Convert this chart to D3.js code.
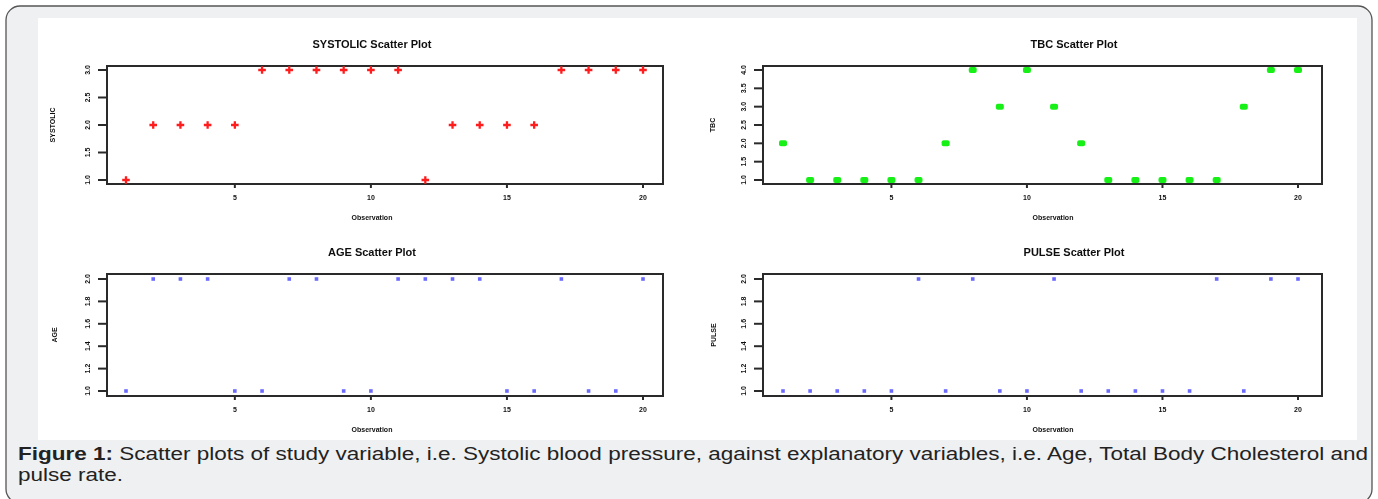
<!DOCTYPE html>
<head>
  <meta charset="utf-8">
  <script src="https://d3js.org/d3.v7.min.js"></script>
  <style>
    body { margin:0; background:#fff; }
    text { font-family: 'Liberation Sans', Arial, sans-serif; }
    .frame { fill: none; stroke: #2b2b2b; stroke-width: 2; }
    .tick-mark { stroke: #2b2b2b; stroke-width: 2; }
    .tick-label { font-size: 7px; font-weight: 700; fill: #111; }
    .plot-title { font-size: 11px; font-weight: 700; fill: #111; text-anchor: middle; }
    .axis-title { font-size: 7px; font-weight: 700; fill: #111; text-anchor: middle; }
    .caption { font-size: 17.5px; fill: #222; }
  </style>
</head>
<body>
  <script>
    // observation numbers 1..20
    var observations = d3.range(1, 21);

    // coded values
    var systolic = [1,2,2,2,2,3,3,3,3,3,3,1,2,2,2,2,3,3,3,3];
    var tbc      = [2,1,1,1,1,1,2,4,3,4,3,2,1,1,1,1,1,3,4,4];
    var age      = [1,2,2,2,1,1,2,2,1,1,2,2,2,2,1,1,2,1,1,2];
    var pulse    = [1,1,1,1,1,2,1,2,1,1,2,1,1,1,1,1,2,1,2,2];

    var xTicks = [5, 10, 15, 20];
    var systolicTicks = [1.0, 1.5, 2.0, 2.5, 3.0];
    var tbcTicks      = [1.0, 1.5, 2.0, 2.5, 3.0, 3.5, 4.0];
    var ageTicks      = [1.0, 1.2, 1.4, 1.6, 1.8, 2.0];
    var pulseTicks    = [1.0, 1.2, 1.4, 1.6, 1.8, 2.0];

    var captionBold = "Figure 1:";
    var captionLine1 = " Scatter plots of study variable, i.e. Systolic blood pressure, against explanatory variables, i.e. Age, Total Body Cholesterol and";
    var captionLine2 = "pulse rate.";

    var W = 1378, H = 499;

    var svg = d3.select("body").append("svg")
        .attr("width", W)
        .attr("height", H);

    var defs = svg.append("defs");
    defs.append("filter").attr("id", "soft")
      .append("feGaussianBlur").attr("stdDeviation", 0.45);

    // card
    svg.append("rect")
      .attr("x", 6).attr("y", 6)
      .attr("width", W - 12).attr("height", 497)
      .attr("rx", 14)
      .style("fill", "#eff0f2")
      .style("stroke", "#555")
      .style("stroke-width", 1.3);

    svg.append("rect")
      .attr("x", 38).attr("y", 18)
      .attr("width", 1319).attr("height", 422)
      .style("fill", "#fff");

    var chart = svg.append("g").attr("filter", "url(#soft)");

    var panels = [
      {title: "SYSTOLIC Scatter Plot", ylab: "SYSTOLIC", values: systolic, ticks: systolicTicks,
       xr: [126, 643], fx: [107, 663], yr: [180, 70], fy: [184, 66], titleX: 372, obsX: 372, yLabX: 53, type: "plus", color: "#ff1e1e"},
      {title: "TBC Scatter Plot", ylab: "TBC", values: tbc, ticks: tbcTicks,
       xr: [783, 1298], fx: [763, 1322], yr: [180, 70], fy: [184, 66], titleX: 1074, obsX: 1053, yLabX: 713, type: "blob", color: "#19f019"},
      {title: "AGE Scatter Plot", ylab: "AGE", values: age, ticks: ageTicks,
       xr: [126, 643], fx: [107, 663], yr: [391, 279], fy: [396, 274], titleX: 372, obsX: 372, yLabX: 55, type: "square", color: "#6b6bff"},
      {title: "PULSE Scatter Plot", ylab: "PULSE", values: pulse, ticks: pulseTicks,
       xr: [783, 1298], fx: [763, 1322], yr: [391, 279], fy: [396, 274], titleX: 1074, obsX: 1053, yLabX: 714, type: "square", color: "#6b6bff"}
    ];

    panels.forEach(function(p) {
      var g = chart.append("g");
      var x = d3.scaleLinear().domain([1, 20]).range(p.xr);
      var y = d3.scaleLinear().domain(d3.extent(p.ticks)).range(p.yr);

      g.append("text").attr("class", "plot-title")
        .attr("x", p.titleX).attr("y", p.fy[1] - 18)
        .text(p.title);

      g.append("rect").attr("class", "frame")
        .attr("x", p.fx[0]).attr("y", p.fy[1])
        .attr("width", p.fx[1] - p.fx[0]).attr("height", p.fy[0] - p.fy[1]);

      // y ticks
      var yt = g.append("g").selectAll("g").data(p.ticks).enter().append("g");
      yt.append("line").attr("class", "tick-mark")
        .attr("x1", p.fx[0] - 9).attr("x2", p.fx[0])
        .attr("y1", d => y(d)).attr("y2", d => y(d));
      yt.append("text").attr("class", "tick-label")
        .attr("text-anchor", "middle")
        .attr("transform", d => "translate(" + (p.fx[0] - 19) + "," + y(d) + ") rotate(-90)")
        .attr("dy", "0.35em")
        .text(d => d3.format(".1f")(d));

      // x ticks
      var xt = g.append("g").selectAll("g").data(xTicks).enter().append("g");
      xt.append("line").attr("class", "tick-mark")
        .attr("x1", d => x(d)).attr("x2", d => x(d))
        .attr("y1", p.fy[0]).attr("y2", p.fy[0] + 4);
      xt.append("text").attr("class", "tick-label")
        .attr("text-anchor", "middle")
        .attr("x", d => x(d)).attr("y", p.fy[0] + 16)
        .text(d => d);

      g.append("text").attr("class", "axis-title")
        .attr("x", p.obsX).attr("y", p.fy[0] + 36)
        .text("Observation");

      g.append("text").attr("class", "axis-title")
        .attr("transform", "translate(" + p.yLabX + "," + ((p.fy[0] + p.fy[1]) / 2) + ") rotate(-90)")
        .attr("dy", "0.35em")
        .text(p.ylab);

      var pts = g.append("g").selectAll("g")
        .data(observations.map((o, i) => ({obs: o, v: p.values[i]})))
        .enter().append("g")
          .attr("transform", d => "translate(" + x(d.obs) + "," + y(d.v) + ")");

      if (p.type === "plus") {
        pts.append("path")
          .attr("d", "M-3.8,0H3.8M0,-3.8V3.8")
          .style("stroke", p.color).style("stroke-width", 2.3);
      } else if (p.type === "blob") {
        pts.append("rect")
          .attr("x", -4).attr("y", -3).attr("width", 8).attr("height", 6).attr("rx", 2)
          .style("fill", p.color);
      } else {
        pts.append("rect")
          .attr("x", -1.8).attr("y", -1.8).attr("width", 3.6).attr("height", 3.6)
          .style("fill", p.color);
      }
    });

    // caption, glyphs stretched so the first line spans the card
    var cap = svg.append("text").attr("class", "caption")
      .attr("x", 18).attr("y", 460);
    cap.append("tspan").style("font-weight", 700).text(captionBold);
    cap.append("tspan").text(captionLine1);
    var stretch = 1350 / cap.node().getComputedTextLength();
    cap.attr("textLength", 1350).attr("lengthAdjust", "spacingAndGlyphs");

    var cap2 = svg.append("text").attr("class", "caption")
      .attr("x", 18).attr("y", 481)
      .text(captionLine2);
    cap2.attr("textLength", cap2.node().getComputedTextLength() * stretch)
      .attr("lengthAdjust", "spacingAndGlyphs");
  </script>
</body>
